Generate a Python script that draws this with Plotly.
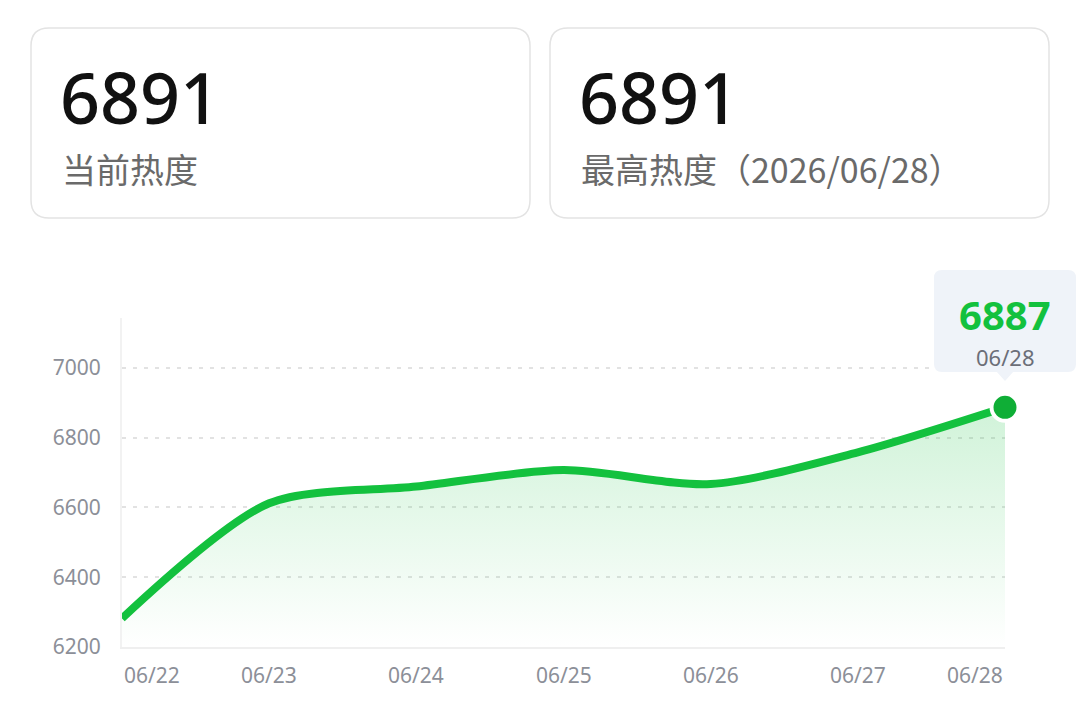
import plotly.graph_objects as go

# ---- data ----
dates = ["06/22", "06/23", "06/24", "06/25", "06/26", "06/27", "06/28"]
heat = [6282, 6612, 6660, 6707, 6667, 6758, 6887]
y_ticks = [6200, 6400, 6600, 6800, 7000]
current_heat = "6891"
peak_heat = "6891"
peak_date = "2026/06/28"
card_labels = ["当前热度", "最高热度（" + peak_date + "）"]

# ---- layout geometry (pixels) ----
W, H = 1080, 713
L, R, T, B = 122, 1005, 318, 647

def px(x):
    return (x - L) / (R - L)

def py(y):
    return (B - y) / (B - T)

def rounded_rect(x0, y0, x1, y1, r):
    pts = [
        ("M", x0 + r, y0), ("L", x1 - r, y0), ("Q", x1, y0, x1, y0 + r),
        ("L", x1, y1 - r), ("Q", x1, y1, x1 - r, y1), ("L", x0 + r, y1),
        ("Q", x0, y1, x0, y1 - r), ("L", x0, y0 + r), ("Q", x0, y0, x0 + r, y0),
    ]
    s = ""
    for p in pts:
        if p[0] in ("M", "L"):
            s += f"{p[0]}{px(p[1]):.5f},{py(p[2]):.5f} "
        else:
            s += f"Q{px(p[1]):.5f},{py(p[2]):.5f} {px(p[3]):.5f},{py(p[4]):.5f} "
    return s + "Z"

GREEN = "#13c13e"
GREEN_DARK = "#0fae36"
GRAY = "#8c8f98"

fig = go.Figure()

fig.add_trace(go.Scatter(
    x=dates, y=heat, mode="lines",
    line=dict(color=GREEN, width=8, shape="spline", smoothing=0.8),
    fill="tozeroy",
    fillgradient=dict(
        type="vertical",
        colorscale=[[0, "rgba(19,193,62,0.0)"], [1, "rgba(19,193,62,0.20)"]],
        start=6200, stop=6890,
    ),
    hoverinfo="skip",
))

fig.add_trace(go.Scatter(
    x=[dates[-1]], y=[heat[-1]], mode="markers",
    marker=dict(size=27, color=GREEN_DARK, line=dict(color="white", width=4)),
    cliponaxis=False, hoverinfo="skip",
))

shapes = [
    dict(type="path", xref="paper", yref="paper", path=rounded_rect(31, 28, 530, 218, 18),
         line=dict(color="#e3e3e3", width=1.5), fillcolor="white", layer="below"),
    dict(type="path", xref="paper", yref="paper", path=rounded_rect(550, 28, 1049, 218, 18),
         line=dict(color="#e3e3e3", width=1.5), fillcolor="white", layer="below"),
    dict(type="path", xref="paper", yref="paper", path=rounded_rect(934, 270, 1076, 372, 8),
         line=dict(width=0), fillcolor="#eff3f9", layer="above"),
    dict(type="path", xref="paper", yref="paper",
         path=f"M{px(996):.5f},{py(371):.5f} L{px(1014):.5f},{py(371):.5f} L{px(1005):.5f},{py(381):.5f} Z",
         line=dict(width=0), fillcolor="#eff3f9", layer="above"),
]

annotations = []
# card texts
for cx, big, lab in [(58, current_heat, card_labels[0]), (577, peak_heat, card_labels[1])]:
    annotations.append(dict(
        x=px(cx), y=py(97), xref="paper", yref="paper", text=big, showarrow=False,
        xanchor="left", yanchor="middle",
        font=dict(family="Noto Sans", size=70, color="#111111", weight=500)))
    annotations.append(dict(
        x=px(cx + 2), y=py(168), xref="paper", yref="paper", text=lab, showarrow=False,
        xanchor="left", yanchor="middle",
        font=dict(family="Noto Sans CJK SC", size=34, color="#6a6a6a")))

# x tick labels
for i, d in enumerate(dates):
    anchor = "left" if i == 0 else ("right" if i == len(dates) - 1 else "center")
    annotations.append(dict(
        x=d, y=py(675), xref="x", yref="paper", text=d, showarrow=False,
        xanchor=anchor, yanchor="middle",
        font=dict(family="Noto Sans", size=21, color=GRAY)))

# tooltip
annotations.append(dict(
    x=px(1005), y=py(314), xref="paper", yref="paper", text=str(heat[-1]), showarrow=False,
    xanchor="center", yanchor="middle", borderpad=0,
    font=dict(family="Noto Sans", size=40, color=GREEN, weight="bold")))
annotations.append(dict(
    x=px(1005), y=py(357), xref="paper", yref="paper", text=dates[-1], showarrow=False,
    xanchor="center", yanchor="middle", borderpad=0,
    font=dict(family="Noto Sans", size=22, color="#6b6e78")))

fig.update_layout(
    width=W, height=H,
    margin=dict(l=L, r=W - R, t=T, b=H - B, pad=0),
    paper_bgcolor="white", plot_bgcolor="white",
    showlegend=False,
    shapes=shapes, annotations=annotations,
    xaxis=dict(
        type="category", range=[0, len(dates) - 1], showticklabels=False,
        showgrid=False, zeroline=False, ticks="",
        showline=True, linecolor="#efefef", linewidth=2,
        fixedrange=True,
    ),
    yaxis=dict(
        range=[6200, 7143], tickvals=y_ticks, ticktext=[str(v) for v in y_ticks],
        showgrid=True, gridcolor="#e2e2e2", gridwidth=2, griddash="4px,7px",
        zeroline=False, ticks="", ticklabelstandoff=15,
        tickfont=dict(family="Noto Sans", size=21, color=GRAY),
        showline=True, linecolor="#f2f2f2", linewidth=2,
        fixedrange=True,
    ),
)

fig.write_html("out.html")
